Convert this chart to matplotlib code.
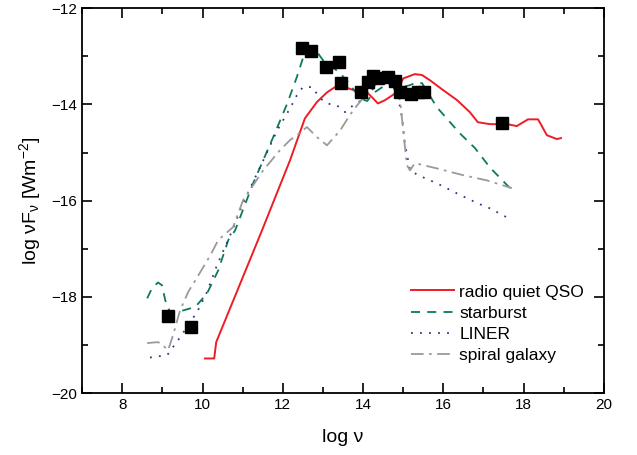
import numpy as np
import matplotlib.pyplot as plt
from matplotlib.ticker import MultipleLocator

plt.rcParams['font.family'] = ['Liberation Sans', 'DejaVu Sans']
plt.rcParams['mathtext.fontset'] = 'custom'
plt.rcParams['mathtext.rm'] = 'Liberation Sans'
plt.rcParams['mathtext.default'] = 'regular'

# observed photometry (black squares)
obs_x = [9.14, 9.71, 12.48, 12.70, 13.08, 13.40, 13.45, 13.95, 14.12, 14.25,
         14.37, 14.62, 14.80, 14.92, 15.19, 15.37, 15.52, 17.46]
obs_y = [-18.40, -18.63, -12.83, -12.89, -13.23, -13.12, -13.56, -13.75, -13.54, -13.41,
         -13.46, -13.43, -13.52, -13.75, -13.79, -13.75, -13.75, -14.39]

# radio quiet QSO template
qso_x = [10.06, 10.29, 10.34, 11.48, 12.18, 12.55, 12.85, 13.10, 13.30, 13.55, 13.75,
         14.10, 14.22, 14.37, 14.55, 14.80, 14.92, 15.00, 15.29, 15.47, 15.67, 15.99,
         16.34, 16.66, 16.86, 17.16, 17.59, 17.83, 18.11, 18.36, 18.58, 18.83, 18.93]
qso_y = [-19.28, -19.28, -18.94, -16.62, -15.16, -14.29, -13.95, -13.75, -13.64, -13.64, -13.70,
         -13.75, -13.85, -13.98, -13.91, -13.77, -13.60, -13.46, -13.37, -13.39, -13.50, -13.70,
         -13.91, -14.16, -14.37, -14.41, -14.41, -14.45, -14.31, -14.31, -14.64, -14.72, -14.70]

# starburst template
sb_x = [8.62, 8.74, 8.89, 8.99, 9.07, 9.19, 9.44, 9.69, 9.86, 10.11, 10.39, 10.64,
        10.81, 11.26, 11.76, 12.11, 12.35, 12.50, 12.68, 12.80, 13.00, 13.43, 13.72,
        13.92, 14.10, 14.25, 14.55, 14.75, 14.87, 15.17, 15.34, 15.47, 15.84, 16.41,
        16.79, 17.16, 17.66]
sb_y = [-18.03, -17.82, -17.70, -17.76, -18.07, -18.32, -18.30, -18.24, -18.17, -17.93, -17.45, -16.82,
        -16.62, -15.64, -14.68, -13.98, -13.43, -13.04, -12.83, -12.85, -13.08, -13.35, -13.64,
        -13.87, -13.93, -13.77, -13.60, -13.64, -13.66, -13.60, -13.54, -13.56, -14.06, -14.60,
        -14.91, -15.31, -15.74]

# LINER template
liner_x = [8.69, 9.12, 9.24, 9.44, 9.64, 9.86, 10.11, 10.36, 10.74, 11.01, 11.43, 11.86,
           12.18, 12.35, 12.50, 12.73, 12.93, 13.10, 13.35, 13.55, 13.75, 13.97, 14.17,
           14.37, 14.62, 14.85, 14.97, 15.04, 15.17, 15.37, 15.84, 16.34, 16.84, 17.16, 17.59]
liner_y = [-19.26, -19.21, -19.07, -18.84, -18.59, -18.32, -17.90, -17.34, -16.62, -16.05, -15.31, -14.54,
           -14.08, -13.81, -13.64, -13.64, -13.87, -13.98, -14.02, -14.16, -14.02, -13.91, -13.75,
           -13.56, -13.54, -13.75, -14.27, -14.81, -15.37, -15.47, -15.64, -15.85, -16.05, -16.16, -16.35]

# spiral galaxy template
sp_x = [8.62, 8.89, 9.02, 9.14, 9.24, 9.32, 9.44, 9.64, 9.94, 10.19, 10.39, 10.76,
        11.01, 11.51, 11.93, 12.18, 12.35, 12.60, 12.85, 13.10, 13.43, 13.67, 13.85,
        14.10, 14.35, 14.60, 14.75, 14.92, 15.00, 15.09, 15.17, 15.29, 15.84, 16.49,
        17.09, 17.71]
sp_y = [-18.96, -18.94, -19.01, -19.11, -18.86, -18.63, -18.28, -17.90, -17.49, -17.14, -16.82, -16.55,
        -15.99, -15.37, -14.95, -14.74, -14.64, -14.47, -14.68, -14.85, -14.54, -14.22, -14.02,
        -13.77, -13.56, -13.54, -13.64, -13.91, -14.54, -15.26, -15.37, -15.22, -15.33, -15.47,
        -15.58, -15.74]

fig = plt.figure(figsize=(6.37, 4.55), dpi=100)
ax = fig.add_axes([0.129, 0.136, 0.819, 0.846])

ax.plot(qso_x, qso_y, color='#ee1c25', lw=1.4, label='radio quiet QSO')
ax.plot(sb_x, sb_y, color='#0b7b55', lw=1.3, ls=(0, (5, 4)), label='starburst')
ax.plot(liner_x, liner_y, color='#353585', lw=1.3, ls=(0, (1, 4)), label='LINER')
ax.plot(sp_x, sp_y, color='#9a9a9a', lw=1.3, ls=(0, (7, 3, 1.5, 3)), label='spiral galaxy')
ax.plot(obs_x, obs_y, 's', color='black', ms=9, ls='none')

ax.set_xlim(7, 20)
ax.set_ylim(-20, -12)
ax.xaxis.set_major_locator(MultipleLocator(2))
ax.xaxis.set_minor_locator(MultipleLocator(1))
ax.yaxis.set_major_locator(MultipleLocator(2))
ax.yaxis.set_minor_locator(MultipleLocator(1))
ax.tick_params(which='both', direction='in', top=True, right=True, labelsize=11, width=1.2)
ax.tick_params(which='major', length=7)
ax.tick_params(which='minor', length=4)
for s in ax.spines.values():
    s.set_linewidth(1.3)

ax.set_xlabel('log ν', fontsize=14, labelpad=12)
ax.set_ylabel('log νF$_ν$ [Wm$^{-2}$]', fontsize=14, labelpad=6)

ax.legend(loc='upper left', bbox_to_anchor=(0.613, 0.305), frameon=False, fontsize=12.5,
          handlelength=2.5, handletextpad=0.3, labelspacing=0.35, borderpad=0)

fig.savefig('out.png', dpi=100)
